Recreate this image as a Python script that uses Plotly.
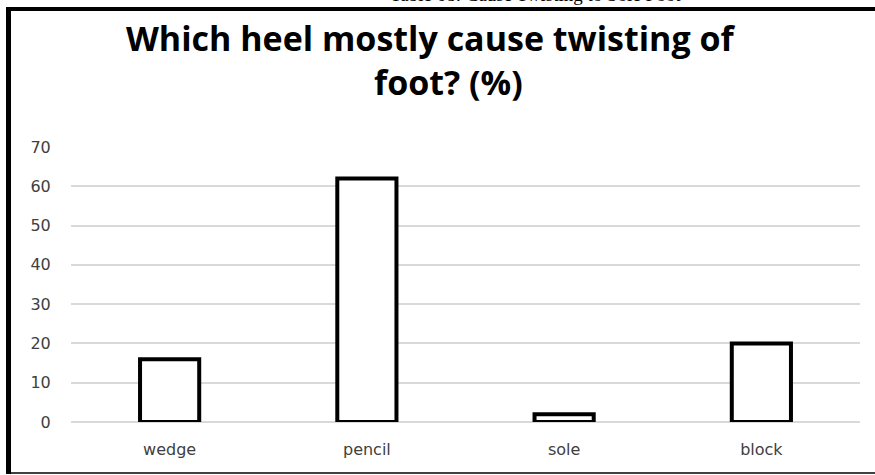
import plotly.graph_objects as go

categories = ["wedge", "pencil", "sole", "block"]
values = [16, 62, 2, 20]
y_ticks = [0, 10, 20, 30, 40, 50, 60, 70]

title_line1 = "Which heel mostly cause twisting of"
title_line2 = "foot? (%)"
caption_text = "Table 08: Cause Twisting to Sole Foot"

W, H = 875, 475
L, R, T, B = 71, 15, 147, 53
pw, ph = W - L - R, H - T - B

def px_x(p):
    return (p - L) / pw

def px_y(p):
    return (H - B - p) / ph

fig = go.Figure(go.Bar(
    x=categories, y=values, width=0.3,
    marker=dict(color="white", line=dict(color="black", width=4)),
))

tick_font = dict(family="DejaVu Sans, sans-serif", size=16, color="#404040")
title_font = dict(family="Open Sans, sans-serif", size=34, color="black")

fig.update_layout(
    width=W, height=H,
    margin=dict(l=L, r=R, t=T, b=B),
    paper_bgcolor="white", plot_bgcolor="white",
    showlegend=False,
    font=dict(family="DejaVu Sans, sans-serif", color="#404040", size=16),
    xaxis=dict(showgrid=False, showline=False, zeroline=False,
               ticks="outside", ticklen=13, tickcolor="rgba(0,0,0,0)",
               tickfont=tick_font),
    yaxis=dict(range=[0, 70], tickvals=y_ticks, showgrid=True,
               gridcolor="#d9d9d9", gridwidth=1.8, zeroline=True,
               zerolinecolor="#d9d9d9", zerolinewidth=1.8, showline=False,
               ticks="outside", ticklen=16, tickcolor="rgba(0,0,0,0)",
               tickfont=tick_font),
    annotations=[
        dict(text="<b>" + title_line1 + "</b>", xref="paper", yref="paper",
             x=px_x(431), y=px_y(38), xanchor="center", yanchor="middle",
             showarrow=False, font=title_font),
        dict(text="<b>" + title_line2 + "</b>", xref="paper", yref="paper",
             x=px_x(448), y=px_y(82), xanchor="center", yanchor="middle",
             showarrow=False, font=title_font),
        dict(text=caption_text, xref="paper", yref="paper",
             x=px_x(535), y=px_y(7), xanchor="center", yanchor="bottom",
             showarrow=False, font=dict(family="Liberation Serif, serif", size=19, color="black")),
    ],
    shapes=[
        dict(type="line", xref="paper", yref="paper", x0=px_x(6.5), x1=px_x(876), y0=px_y(9), y1=px_y(9),
             line=dict(color="black", width=4)),
        dict(type="line", xref="paper", yref="paper", x0=px_x(8.5), x1=px_x(8.5), y0=px_y(7), y1=px_y(474),
             line=dict(color="black", width=5)),
        dict(type="line", xref="paper", yref="paper", x0=px_x(8), x1=px_x(876), y0=px_y(473), y1=px_y(473),
             line=dict(color="black", width=1.5)),
    ],
)

fig.write_html("out.html")
